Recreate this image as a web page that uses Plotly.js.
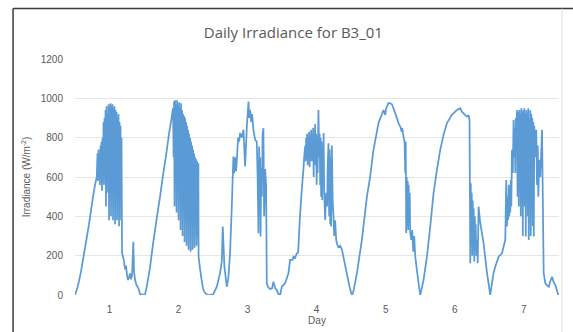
<!DOCTYPE html>
<html>
<head>
<meta charset="utf-8">
<script src="https://cdn.plot.ly/plotly-3.0.1.min.js"></script>
<style>html,body{margin:0;padding:0;background:#fff;}#chart{width:573px;height:332px;}</style>
</head>
<body>
<div id="chart"></div>
<script>
// Day index (fractional days) and irradiance (W/m^-2), one array pair per daylight period
const day1Time = [0.500,0.529,0.558,0.587,0.616,0.645,0.674,0.703,0.732,0.761,0.790,0.815,
  0.826,0.833,0.841,0.848,0.855,0.862,0.870,0.877,0.884,0.891,0.899,0.906,0.913,0.920,0.928,0.935,0.942,0.949,0.957,0.964,
  0.971,0.978,0.986,0.993,1.000,1.007,1.014,1.022,1.029,1.036,1.043,1.051,1.058,1.065,1.072,1.080,1.087,1.094,1.101,1.109,
  1.116,1.123,1.130,1.138,1.145,1.152,1.159,1.167,1.174,
  1.181,1.196,1.210,1.225,1.239,1.254,1.268,1.283,1.297,1.312,1.326,1.345,1.355,1.370,1.391,1.417,1.442,1.471,1.514];
const day1Irr = [0,30,70,120,180,240,300,360,430,500,560,600,
  720,580,740,600,700,560,760,620,780,530,800,650,880,560,900,620,940,450,960,700,
  920,520,970,380,950,600,975,400,960,700,970,380,950,500,960,360,940,650,930,380,
  900,560,920,350,880,500,860,380,800,
  214,195,170,130,150,100,76,90,110,80,100,271,120,76,50,35,5,2,3];

const day2Time = [1.539,1.587,1.630,1.688,1.732,1.775,1.819,1.862,1.899,
  1.920,1.928,1.935,1.942,1.949,1.957,1.964,1.971,1.978,1.986,1.993,2.000,2.007,2.014,2.022,2.029,2.036,2.043,2.051,2.058,
  2.065,2.072,2.080,2.087,2.094,2.101,2.109,2.116,2.123,2.130,2.138,2.145,2.152,2.159,2.167,2.174,2.181,2.188,2.196,2.203,
  2.210,2.217,2.225,2.232,2.239,2.246,2.254,2.261,2.268,2.275,
  2.287,2.290,2.312,2.333,2.355,2.384,2.413,2.457,2.500];
const day2Irr = [42,140,260,400,500,610,710,820,900,
  950,700,985,450,990,600,970,420,990,750,960,380,980,550,950,330,975,650,940,300,
  920,500,910,270,900,600,880,250,860,450,840,230,820,520,800,220,780,400,760,230,
  740,500,720,240,700,350,690,250,680,300,
  670,195,130,80,30,10,2,0,3];

const day3Time = [2.554,2.601,2.626,2.640,2.664,2.699,2.722,2.746,2.771,2.794,2.804,2.819,2.833,2.848,2.862,2.877,2.891,2.916,
  2.940,2.964,2.989,3.013,3.023,3.036,3.051,3.065,3.084,3.109,3.133,3.145,3.157,3.167,3.174,3.181,3.188,3.196,3.206,3.217,
  3.229,3.239,3.254,3.268,3.278,3.297,3.326,3.355,3.374,3.399,3.423,3.446,3.471];
const day3Irr = [42,112,170,348,144,42,90,213,450,704,620,700,630,710,800,780,824,800,
  840,653,857,984,900,941,880,920,840,789,780,600,314,755,450,700,297,650,500,820,
  848,400,640,560,59,40,30,35,68,35,25,5,0];

const day4Time = [3.496,3.543,3.591,3.616,3.651,3.664,3.688,3.713,3.732,3.758,3.784,3.812,
  3.819,3.834,3.841,3.848,3.855,3.862,3.870,3.877,3.884,3.891,3.899,3.906,3.913,3.920,3.928,3.935,3.942,3.949,3.957,3.964,
  3.971,3.978,3.986,3.993,4.000,4.007,4.014,4.026,4.036,4.043,4.051,4.058,4.065,4.072,4.080,4.087,4.094,4.101,4.109,
  4.123,4.138,4.152,4.159,4.171,4.181,4.188,4.196,4.203,4.210,4.220,4.232,4.244,4.254,4.268,4.283,4.293,4.312,4.341,
  4.367,4.384,4.413,4.442,4.471,4.500,4.514];
const day4Irr = [42,60,110,178,178,195,190,212,215,398,534,653,
  700,760,680,800,700,820,660,780,720,830,650,800,700,840,680,760,720,850,600,800,
  700,870,660,820,560,800,620,941,700,820,560,800,500,780,483,760,600,824,520,
  382,520,450,650,772,400,740,360,700,348,760,483,400,300,380,280,263,244,250,
  229,200,150,100,50,10,0];

const day5Time = [4.533,4.583,4.655,4.728,4.775,4.823,4.896,4.968,4.993,5.007,5.041,5.065,5.090,5.138,5.186,5.210,5.232,5.239,
  5.258,5.273,5.283,5.290,5.297,5.304,5.312,5.319,5.326,5.333,5.341,5.348,5.355,5.370,5.384,5.399,5.413,5.428,5.452,5.476,5.500];
const day5Irr = [20,110,280,500,602,738,874,941,916,950,976,975,970,925,874,857,830,850,
  806,780,620,780,315,600,350,580,330,560,400,520,320,280,330,220,300,195,127,59,0];

const day6Time = [5.548,5.597,5.645,5.693,5.742,5.790,5.838,5.887,5.959,6.032,6.080,6.101,6.128,6.152,6.177,6.200,6.214,
  6.225,6.232,6.239,6.246,6.254,6.261,6.268,6.275,6.283,6.290,6.297,6.304,6.312,6.326,6.333,6.345,6.370,6.394,6.418,6.467,6.514];
const day6Irr = [76,195,348,518,636,738,814,874,916,941,950,933,924,915,907,915,890,
  161,568,300,520,200,480,250,440,170,400,300,360,200,280,161,449,365,315,263,112,0];

const day7Time = [6.562,6.587,6.635,6.684,6.732,6.746,6.756,6.768,6.775,6.783,6.790,6.797,6.804,6.812,6.819,6.829,6.841,6.852,
  6.862,6.870,6.877,6.884,6.891,6.901,6.910,6.920,6.928,6.935,6.942,6.949,6.957,6.964,6.971,6.978,6.986,6.993,7.000,7.007,
  7.014,7.022,7.029,7.036,7.043,7.051,7.058,7.065,7.072,7.080,7.087,7.094,7.101,7.109,7.116,7.123,7.130,7.138,7.145,7.152,
  7.167,7.181,7.191,7.203,7.210,7.225,7.239,7.264,7.288,7.312,7.333,7.362,7.384,7.409,7.428,7.457,7.478,7.500];
const day7Irr = [112,144,195,212,280,585,348,500,382,560,400,540,420,585,450,738,620,890,
  700,850,620,900,750,941,500,930,450,941,600,920,400,950,650,930,300,940,500,950,
  450,920,297,940,600,930,400,950,280,900,500,940,300,920,480,900,350,880,297,860,
  700,840,560,760,500,687,600,840,112,59,50,42,70,93,70,50,25,0];

const dayTicks = [1, 2, 3, 4, 5, 6, 7];
const dayTickLabels = ['1', '2', '3', '4', '5', '6', '7'];
const irrTicks = [0, 200, 400, 600, 800, 1000, 1200];

const time = [].concat(day1Time, day2Time, day3Time, day4Time, day5Time, day6Time, day7Time);
const irradiance = [].concat(day1Irr, day2Irr, day3Irr, day4Irr, day5Irr, day6Irr, day7Irr);

const FONT = 'Liberation Sans, Arial, sans-serif';
const TITLE_FONT = 'Open Sans, Liberation Sans, sans-serif';
const GREY = '#595959';

const trace = {
  x: time,
  y: irradiance,
  type: 'scatter',
  mode: 'lines',
  line: {color: '#5B9BD5', width: 1.75, simplify: false},
  hoverinfo: 'x+y'
};

const layout = {
  width: 573,
  height: 332,
  margin: {l: 75, r: 14, t: 59, b: 37},
  paper_bgcolor: '#ffffff',
  plot_bgcolor: '#ffffff',
  showlegend: false,
  title: {
    text: 'Daily Irradiance for B3_01',
    x: 0.512, xref: 'container', xanchor: 'center',
    y: 0.90, yref: 'container', yanchor: 'middle',
    font: {family: TITLE_FONT, size: 15, color: GREY}
  },
  xaxis: {
    range: [0.5, 7.51],
    tickvals: dayTicks,
    ticktext: dayTickLabels,
    ticks: 'outside', ticklen: 5, tickcolor: 'rgba(0,0,0,0)',
    showgrid: false, zeroline: false, showline: false,
    tickfont: {family: FONT, size: 10, color: GREY},
    title: {text: 'Day', font: {family: FONT, size: 10, color: GREY}, standoff: 2}
  },
  yaxis: {
    range: [0, 1200],
    tickvals: irrTicks,
    ticks: 'outside', ticklen: 9, tickcolor: 'rgba(0,0,0,0)',
    showgrid: true, gridcolor: '#e6e6e6', gridwidth: 1,
    zeroline: false, showline: false,
    tickfont: {family: FONT, size: 10, color: GREY},
    title: {text: 'Irradiance (W/m<sup>-2</sup>)', font: {family: FONT, size: 10, color: GREY}, standoff: 8}
  },
  shapes: [
    {type: 'line', xref: 'paper', yref: 'paper', x0: -0.128, x1: -0.128, y0: -0.3, y1: 1.2135,
      line: {color: '#3a3a3a', width: 1.5}},
    {type: 'line', xref: 'paper', yref: 'paper', x0: -0.128, x1: 1.2, y0: 1.2135, y1: 1.2135,
      line: {color: '#3a3a3a', width: 1.5}},
    {type: 'line', xref: 'paper', yref: 'paper', x0: 1.0062, x1: 1.0062, y0: -0.3, y1: 1.2135,
      line: {color: '#dddddd', width: 1}}
  ]
};

Plotly.newPlot('chart', [trace], layout, {displayModeBar: false, staticPlot: true});
</script>
</body>
</html>
